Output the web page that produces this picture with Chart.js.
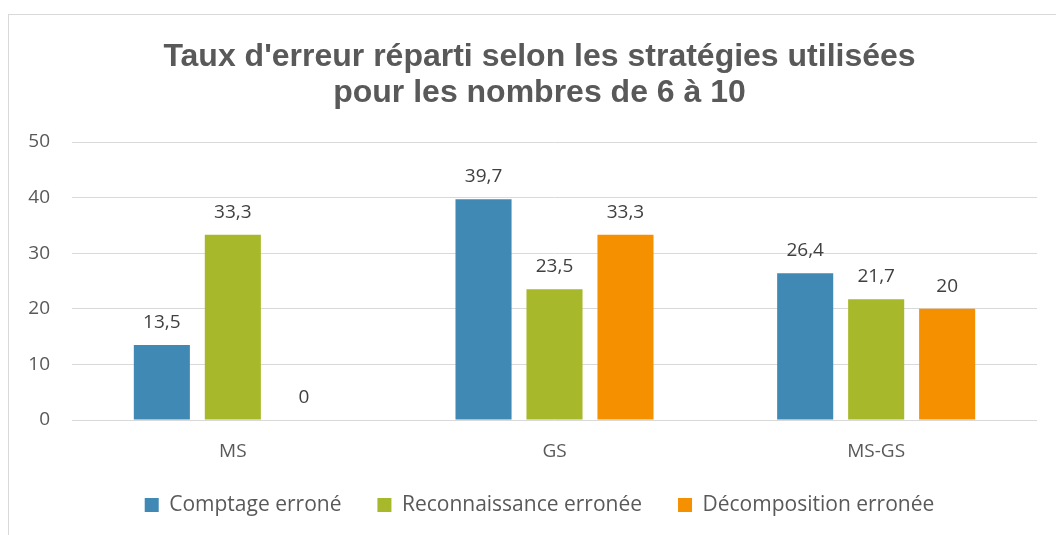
<!DOCTYPE html>
<html>
<head>
<meta charset="utf-8">
<script src="https://cdn.jsdelivr.net/npm/chart.js@4.4.0/dist/chart.umd.min.js"></script>
<style>
  html, body { margin: 0; padding: 0; background: #fff; overflow: hidden; }
  #wrap { position: relative; width: 1056px; height: 535px; }
  #frame { position: absolute; left: 8px; top: 14px; width: 1100px; height: 600px; border: 1px solid #d9d9d9; }
  #c { position: absolute; left: 0; top: 0; }
</style>
</head>
<body>
<div id="wrap">
  <div id="frame"></div>
  <canvas id="c" width="1056" height="535"></canvas>
</div>
<script>
const categories = ["MS", "GS", "MS-GS"];
const comptage = [13.5, 39.7, 26.4];
const reconnaissance = [33.3, 23.5, 21.7];
const decomposition = [0, 33.3, 20];
const yTicks = [0, 10, 20, 30, 40, 50];

const textGray = "#595959";

// draws the value above each bar, french decimal comma
const barLabels = {
  id: "barLabels",
  afterDatasetsDraw(chart) {
    const ctx = chart.ctx;
    ctx.save();
    ctx.font = "19px 'Open Sans'";
    ctx.fillStyle = "#404040";
    ctx.textAlign = "center";
    ctx.textBaseline = "bottom";
    chart.data.datasets.forEach((ds, i) => {
      chart.getDatasetMeta(i).data.forEach((bar, j) => {
        const txt = String(ds.data[j]).replace(".", ",");
        ctx.fillText(txt, bar.x, bar.y - 13);
      });
    });
    ctx.restore();
  },
};

// legend: wide gaps between items but a short box,
// title + legend centred a bit right of the canvas middle
const boxTweaks = {
  id: "boxTweaks",
  beforeLayout(chart) {
    const lg = chart.legend;
    if (lg && !lg._fitPatched) {
      const fit = Object.getPrototypeOf(lg).fit;
      lg.fit = function () { fit.call(this); this.height = 65.5; };
      lg._fitPatched = true;
    }
  },
  afterLayout(chart) {
    if (chart.titleBlock) chart.titleBlock.left = 42;
    if (chart.legend) chart.legend.left = 42;
  },
};

new Chart(document.getElementById("c"), {
  type: "bar",
  data: {
    labels: categories,
    datasets: [
      { label: "Comptage erroné", data: comptage, backgroundColor: "#4189b5" },
      { label: "Reconnaissance erronée", data: reconnaissance, backgroundColor: "#a8b82b" },
      { label: "Décomposition erronée", data: decomposition, backgroundColor: "#f59100" },
    ],
  },
  options: {
    responsive: false,
    animation: false,
    layout: { padding: { left: 10, right: 19, top: 0, bottom: 11 } },
    datasets: {
      bar: { categoryPercentage: 0.662, barPercentage: 0.79 },
    },
    plugins: {
      title: {
        display: true,
        text: ["Taux d'erreur réparti selon les stratégies utilisées", "pour les nombres de 6 à 10"],
        color: textGray,
        font: { family: "'Liberation Sans', Arial", size: 32, weight: "bold", lineHeight: 1.125 },
        padding: { top: 39, bottom: 31 },
      },
      legend: {
        position: "bottom",
        labels: {
          color: textGray,
          boxWidth: 14,
          boxHeight: 14,
          padding: 36,
          font: { family: "'Open Sans'", size: 21 },
        },
      },
      tooltip: { enabled: false },
    },
    scales: {
      x: {
        grid: { display: false },
        border: { display: false },
        ticks: { color: textGray, padding: 12, font: { family: "'Open Sans'", size: 19 } },
        afterFit: (s) => { s.height = 38.5; },
      },
      y: {
        min: 0,
        max: 50,
        afterBuildTicks: (s) => { s.ticks = yTicks.map((v) => ({ value: v })); },
        grid: { color: "#d9d9d9", lineWidth: 1, drawTicks: false },
        border: { display: false },
        ticks: { color: textGray, padding: 22, font: { family: "'Open Sans'", size: 19 } },
        afterFit: (s) => { s.width = 62; },
      },
    },
  },
  plugins: [barLabels, boxTweaks],
});
</script>
</body>
</html>
